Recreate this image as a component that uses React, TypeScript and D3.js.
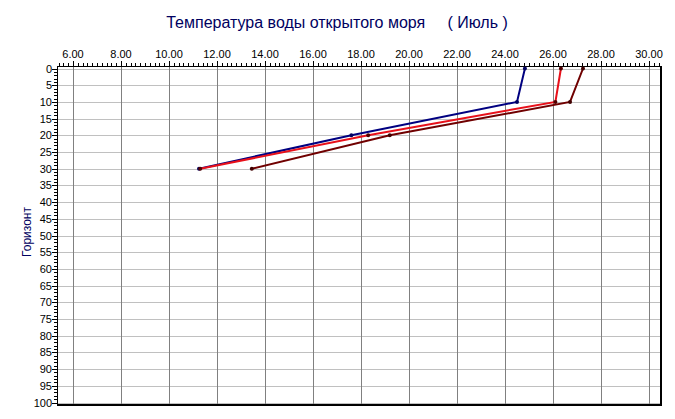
import React from "react";
import * as d3 from "d3";

const title = "Температура воды открытого моря     ( Июль )";
const yAxisLabel = "Горизонт";
const depths = [0, 10, 20, 30];
const seriesNames = ["s1", "s2", "s3"];
const seriesNavy = [24.83, 24.5, 17.6, 11.25];
const seriesRed = [26.33, 26.1, 18.3, 11.3];
const seriesDarkRed = [27.25, 26.71, 19.2, 13.45];
const seriesColors = ["#000080", "#e8101a", "#700000"];
const markerColors = ["#000060", "#500000", "#400000"];
const xTicks = [6, 8, 10, 12, 14, 16, 18, 20, 22, 24, 26, 28, 30];
const yTicks = d3.range(0, 101, 5);

export default function App() {
  const W = 675, H = 419;
  const frameL = 57, frameR = 661, frameT = 66, frameB = 405;
  const x = d3.scaleLinear().domain([6, 30]).range([73, 649]);
  const y = d3.scaleLinear().domain([0, 100]).range([68.5, 402.5]);
  const xMin = x.invert(frameL), xMax = x.invert(frameR);
  const minorX: number[] = [];
  for (let v = Math.ceil(xMin / 0.2) * 0.2; v <= xMax; v += 0.2) minorX.push(v);
  const minorY = d3.range(0, 101, 1);
  const series = [seriesNavy, seriesRed, seriesDarkRed];
  const line = d3.line<[number, number]>().x(d => x(d[0])).y(d => y(d[1]));
  const font = "Arial, 'Liberation Sans', sans-serif";

  return (
    <svg width={W} height={H} style={{ position: "absolute", left: 0, top: 0, background: "#fff" }} fontFamily={font}>
      <rect x={0} y={0} width={W} height={H} fill="#fff" />
      <text x={337} y={28} textAnchor="middle" fontSize={16} fill="#000060" style={{ whiteSpace: "pre" }}>{title}</text>
      {/* horizontal grid */}
      {yTicks.map(t => (
        <line key={"hg" + t} x1={frameL} x2={frameR} y1={Math.round(y(t)) + 0.5} y2={Math.round(y(t)) + 0.5} stroke="#c0c0c0" strokeWidth={1} />
      ))}
      {/* vertical grid */}
      {xTicks.map(t => (
        <line key={"vg" + t} x1={Math.round(x(t)) + 0.5} x2={Math.round(x(t)) + 0.5} y1={frameT} y2={frameB} stroke="#808080" strokeWidth={1} />
      ))}
      {/* frame */}
      <line x1={frameL} x2={frameR} y1={frameT + 0.5} y2={frameT + 0.5} stroke="#000" />
      <line x1={frameL + 0.5} x2={frameL + 0.5} y1={frameT} y2={frameB} stroke="#000" />
      <line x1={frameR} x2={frameR} y1={frameT} y2={frameB + 1} stroke="#000" strokeWidth={2} />
      <line x1={frameL} x2={frameR + 1} y1={frameB} y2={frameB} stroke="#000" strokeWidth={2} />
      {/* x ticks */}
      {minorX.map((v, i) => (
        <line key={"mx" + i} x1={Math.round(x(v)) + 0.5} x2={Math.round(x(v)) + 0.5} y1={frameT} y2={frameT - 3} stroke="#000" />
      ))}
      {xTicks.map(t => (
        <g key={"xt" + t}>
          <line x1={Math.round(x(t)) + 0.5} x2={Math.round(x(t)) + 0.5} y1={frameT} y2={frameT - 5} stroke="#000" />
          <text x={x(t)} y={58} textAnchor="middle" fontSize={11} fill="#000">{t.toFixed(2)}</text>
        </g>
      ))}
      {/* y ticks */}
      {minorY.map(v => (
        <line key={"my" + v} x1={frameL} x2={frameL - 3} y1={Math.round(y(v)) + 0.5} y2={Math.round(y(v)) + 0.5} stroke="#000" />
      ))}
      {yTicks.map(t => (
        <g key={"yt" + t}>
          <line x1={frameL} x2={frameL - 5} y1={Math.round(y(t)) + 0.5} y2={Math.round(y(t)) + 0.5} stroke="#000" />
          <text x={frameL - 5} y={y(t) + 4} textAnchor="end" fontSize={11} fill="#000">{t}</text>
        </g>
      ))}
      <text transform={`translate(31,${232}) rotate(-90)`} textAnchor="middle" fontSize={12} fill="#000060">{yAxisLabel}</text>
      {/* series */}
      {series.map((vals, si) => {
        const pts: [number, number][] = vals.map((v, i) => [v, depths[i]]);
        return (
          <g key={seriesNames[si]}>
            <path d={line(pts) || ""} fill="none" stroke={seriesColors[si]} strokeWidth={2} />
            {pts.map((p, i) => (
              <circle key={i} cx={x(p[0])} cy={y(p[1])} r={2} fill={markerColors[si]} />
            ))}
          </g>
        );
      })}
    </svg>
  );
}
